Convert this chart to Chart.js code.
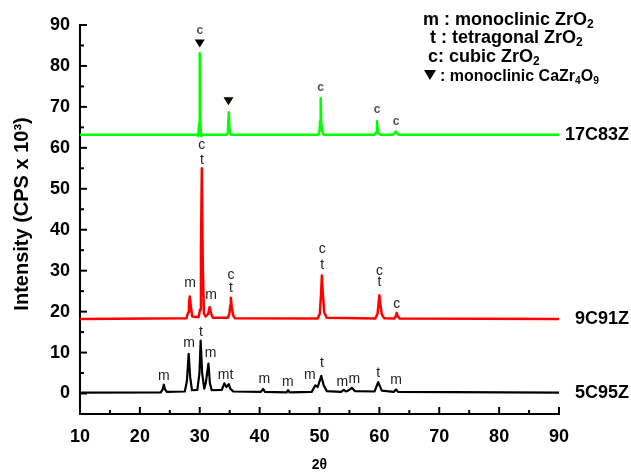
<!DOCTYPE html>
<html>
<head>
<meta charset="utf-8">
<script src="https://cdn.jsdelivr.net/npm/chart.js@4.4.0/dist/chart.umd.min.js"></script>
<style>
  html, body { margin: 0; padding: 0; background: #fff; }
</style>
</head>
<body>
<canvas id="xrd" width="631" height="472"></canvas>
<script>
var FONT = "'Liberation Sans', Arial, 'DejaVu Sans', sans-serif";

// axis ticks
var xTicks = [10, 20, 30, 40, 50, 60, 70, 80, 90];
var xMinorTicks = [15, 25, 35, 45, 55, 65, 75, 85];
var yTicks = [0, 10, 20, 30, 40, 50, 60, 70, 80, 90];
var yMinorTicks = [5, 15, 25, 35, 45, 55, 65, 75, 85];

// patterns: [2theta, intensity (CPS x 10^3)]
var pattern17C83Z = [
  [10, 63.2], [29.5, 63.2], [29.75, 62.9], [29.9, 66.0], [30.0, 83.1], [30.12, 66.0], [30.25, 62.9], [30.5, 63.2],
  [34.5, 63.2], [34.7, 63.8], [34.85, 68.7], [35.0, 63.8], [35.2, 63.2],
  [49.8, 63.2], [50.0, 64.0], [50.1, 66.5], [50.2, 72.1], [50.3, 66.0], [50.45, 64.0], [50.7, 63.2],
  [59.2, 63.2], [59.45, 63.8], [59.6, 66.5], [59.75, 64.0], [59.95, 63.5], [60.2, 63.2],
  [62.3, 63.2], [62.55, 63.6], [62.75, 64.0], [62.95, 63.6], [63.2, 63.2], [90, 63.2]
];
var pattern9C91Z = [
  [10, 18.2], [27.8, 18.4], [28.05, 19.8], [28.2, 22.0], [28.35, 23.7], [28.5, 21.5], [28.75, 18.8],
  [29.8, 18.6], [30.05, 20.5], [30.2, 35.0], [30.35, 55.0], [30.5, 32.0], [30.7, 19.5],
  [31.0, 18.8], [31.4, 19.5], [31.65, 21.1], [31.9, 19.5], [32.2, 18.5],
  [34.7, 18.5], [34.95, 19.5], [35.1, 21.5], [35.2, 23.4], [35.35, 21.0], [35.6, 19.0], [35.9, 18.4],
  [49.7, 18.3], [50.05, 19.5], [50.25, 24.0], [50.4, 28.8], [50.55, 24.5], [50.8, 19.8], [51.2, 18.5],
  [59.3, 18.3], [59.7, 19.5], [59.9, 22.5], [60.0, 24.0], [60.15, 22.0], [60.4, 19.3], [60.8, 18.4],
  [62.5, 18.3], [62.75, 18.9], [62.9, 19.7], [63.05, 18.9], [63.4, 18.3], [90, 18.2]
];
var pattern5C95Z = [
  [10, 0.2], [23.5, 0.3], [23.8, 1.0], [24.0, 2.2], [24.2, 1.0], [24.5, 0.4],
  [27.5, 0.5], [27.85, 3.0], [28.15, 9.7], [28.4, 4.0], [28.7, 0.8],
  [29.6, 0.9], [29.95, 5.0], [30.15, 12.9], [30.4, 5.0], [30.75, 1.2],
  [31.0, 2.5], [31.45, 7.3], [31.7, 2.5], [32.0, 0.8],
  [33.7, 0.9], [34.1, 2.5], [34.45, 1.6], [34.85, 2.3], [35.1, 1.2], [35.6, 0.5],
  [40.2, 0.4], [40.6, 1.1], [40.9, 0.4], [44.5, 0.3], [44.75, 0.8], [45.0, 0.3],
  [48.7, 0.4], [49.3, 2.0], [49.7, 1.6], [50.3, 4.3], [50.7, 2.0], [51.2, 0.6],
  [53.6, 0.4], [54.05, 0.9], [54.4, 0.5], [54.9, 0.8], [55.4, 1.4], [55.9, 0.6],
  [59.2, 0.5], [59.8, 2.8], [60.4, 0.7], [62.4, 0.4], [62.8, 1.0], [63.1, 0.4], [90, 0.2]
];

var seriesNames = ['17C83Z', '9C91Z', '5C95Z'];
var seriesColors = ['#00ff00', '#ff0000', '#000000'];
var seriesWidths = [2.5, 2.5, 2.2];
var seriesLabelY = [63.2, 18.2, 0.2];

// phase marks: [2theta, intensity, letter]
var marks17C83Z = [[30.0, 88.7, 'c'], [50.2, 74.8, 'c'], [59.6, 69.2, 'c'], [62.8, 66.3, 'c']];
var triangles17C83Z = [[30.0, 85.5], [34.8, 71.4]];
var marks9C91Z = [
  [30.35, 60.6, 'c'], [30.35, 57.0, 't'], [28.4, 26.9, 'm'], [31.9, 24.0, 'm'],
  [35.2, 28.9, 'c'], [35.2, 25.7, 't'], [50.45, 35.2, 'c'], [50.45, 31.3, 't'],
  [60.0, 29.8, 'c'], [60.0, 27.1, 't'], [62.9, 21.8, 'c']
];
var marks5C95Z = [
  [24.0, 4.2, 'm'], [28.2, 12.2, 'm'], [30.2, 14.9, 't'], [31.8, 9.8, 'm'], [34.3, 4.4, 'mt'],
  [40.8, 3.4, 'm'], [44.7, 2.9, 'm'], [48.4, 4.4, 'm'], [50.4, 7.3, 't'], [53.8, 2.9, 'm'],
  [55.8, 3.4, 'm'], [59.8, 5.1, 't'], [62.8, 3.2, 'm']
];

// key text: [text, isSubscript]; the last line starts with a drawn triangle
var keyLines = [
  [['m : monoclinic ZrO', 0], ['2', 1]],
  [['t : tetragonal ZrO', 0], ['2', 1]],
  [['c: cubic ZrO', 0], ['2', 1]],
  [[': monoclinic CaZr', 0], ['4', 1], ['O', 0], ['9', 1]]
];

function triangle(ctx, cx, cy, w, h) {
  ctx.beginPath();
  ctx.moveTo(cx - w / 2, cy - h / 2);
  ctx.lineTo(cx + w / 2, cy - h / 2);
  ctx.lineTo(cx, cy + h / 2);
  ctx.closePath();
  ctx.fill();
}

function tick(ctx, x0, y0, x1, y1) {
  ctx.beginPath();
  ctx.moveTo(x0, y0);
  ctx.lineTo(x1, y1);
  ctx.stroke();
}

var xrdDecor = {
  id: 'xrdDecor',
  afterDraw: function(chart) {
    var ctx = chart.ctx, a = chart.chartArea, x = chart.scales.x, y = chart.scales.y;
    ctx.save();

    // tick marks pointing into the plot
    ctx.strokeStyle = '#000';
    ctx.lineWidth = 2;
    xTicks.forEach(function(v) { var p = x.getPixelForValue(v); tick(ctx, p, a.bottom, p, a.bottom - 7); });
    xMinorTicks.forEach(function(v) { var p = x.getPixelForValue(v); tick(ctx, p, a.bottom, p, a.bottom - 4); });
    yTicks.forEach(function(v) { var p = y.getPixelForValue(v); tick(ctx, a.left, p, a.left + 7, p); });
    yMinorTicks.forEach(function(v) { var p = y.getPixelForValue(v); tick(ctx, a.left, p, a.left + 4, p); });

    // phase letters
    ctx.textAlign = 'center';
    ctx.textBaseline = 'middle';
    ctx.font = 'bold 12px ' + FONT;
    ctx.fillStyle = '#555';
    marks17C83Z.forEach(function(m) { ctx.fillText(m[2], x.getPixelForValue(m[0]), y.getPixelForValue(m[1])); });
    ctx.font = '14px ' + FONT;
    ctx.fillStyle = '#222';
    marks9C91Z.concat(marks5C95Z).forEach(function(m) { ctx.fillText(m[2], x.getPixelForValue(m[0]), y.getPixelForValue(m[1])); });
    ctx.fillStyle = '#000';
    triangles17C83Z.forEach(function(t) { triangle(ctx, x.getPixelForValue(t[0]), y.getPixelForValue(t[1]), 10, 8); });

    // series names
    ctx.textAlign = 'right';
    ctx.font = 'bold 18px ' + FONT;
    seriesNames.forEach(function(n, i) { ctx.fillText(n, a.right + 70, y.getPixelForValue(seriesLabelY[i])); });

    // key (last line squeezed to the width it has in the figure)
    var keyX = [423, 430, 428, 440], keyY = [20, 38, 57, 76], keyW = [0, 0, 0, 159];
    ctx.textAlign = 'left';
    triangle(ctx, 430, 75, 12, 10);
    keyLines.forEach(function(line, i) {
      var size = i === 3 ? 17 : 18;
      var fontOf = function(seg) { return 'bold ' + (seg[1] ? Math.round(size * 0.66) : size) + 'px ' + FONT; };
      var total = 0;
      line.forEach(function(seg) { ctx.font = fontOf(seg); total += ctx.measureText(seg[0]).width; });
      var sx = keyW[i] ? Math.min(1, keyW[i] / total) : 1;
      ctx.save();
      ctx.translate(keyX[i], keyY[i]);
      ctx.scale(sx, 1);
      var px = 0;
      line.forEach(function(seg) {
        ctx.font = fontOf(seg);
        ctx.fillText(seg[0], px, seg[1] ? 5 : 0);
        px += ctx.measureText(seg[0]).width;
      });
      ctx.restore();
    });
    ctx.restore();
  }
};

function dataset(points, i) {
  return {
    label: seriesNames[i],
    data: points,
    borderColor: seriesColors[i],
    borderWidth: seriesWidths[i],
    borderJoinStyle: 'round',
    pointRadius: 0,
    tension: 0
  };
}

new Chart(document.getElementById('xrd'), {
  type: 'line',
  data: {
    datasets: [
      dataset(pattern17C83Z, 0),
      dataset(pattern9C91Z, 1),
      dataset(pattern5C95Z, 2)
    ]
  },
  options: {
    responsive: false,
    animation: false,
    devicePixelRatio: 1,
    layout: { padding: { top: 25, right: 72, left: 0, bottom: 0 } },
    plugins: { legend: { display: false }, tooltip: { enabled: false } },
    scales: {
      x: {
        type: 'linear',
        min: 10,
        max: 90,
        afterBuildTicks: function(s) { s.ticks = xTicks.map(function(v) { return { value: v }; }); },
        afterFit: function(s) { s.height = 58; },
        grid: { display: false, drawTicks: false },
        border: { display: true, color: '#000', width: 2 },
        ticks: { color: '#000', padding: 12, font: { family: FONT, size: 18, weight: 'bold' } },
        title: { display: true, text: '2\u03B8', color: '#000', padding: 0, font: { family: FONT, size: 14, weight: 'bold', lineHeight: 1 } }
      },
      y: {
        type: 'linear',
        min: -5,
        max: 90,
        afterBuildTicks: function(s) { s.ticks = yTicks.map(function(v) { return { value: v }; }); },
        afterFit: function(s) { s.width = 80; },
        grid: { display: false, drawTicks: false },
        border: { display: true, color: '#000', width: 2 },
        ticks: { color: '#000', padding: 10, font: { family: FONT, size: 18, weight: 'bold' } },
        title: { display: true, text: '  Intensity (CPS x 10\u00B3)', color: '#000', padding: { top: 10, bottom: 0 }, font: { family: FONT, size: 20, weight: 'bold', lineHeight: 1.2 } }
      }
    }
  },
  plugins: [xrdDecor]
});
</script>
</body>
</html>
